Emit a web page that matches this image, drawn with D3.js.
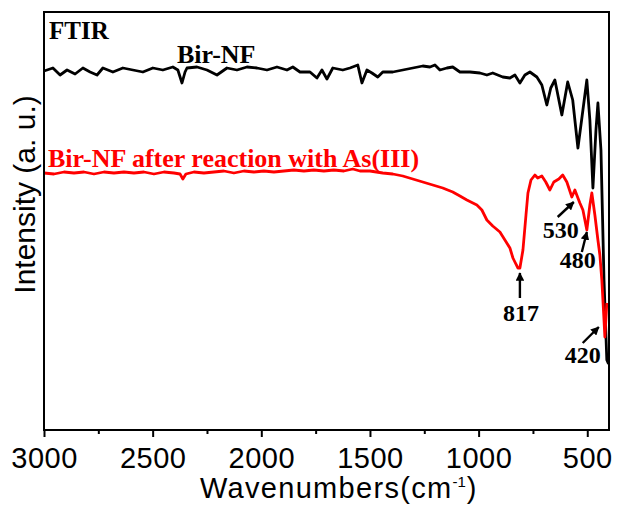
<!DOCTYPE html>
<html>
<head>
<meta charset="utf-8">
<script src="https://cdn.jsdelivr.net/npm/d3@7/dist/d3.min.js"></script>
<style>
  body { margin: 0; background: #fff; }
  svg { display: block; }
</style>
</head>
<body>
<div id="chart"></div>
<script>
(function () {
  const WIDTH  = 618;
  const HEIGHT = 512;
  const PLOT   = { left: 44, right: 609, top: 12, bottom: 430 };

  // axis ticks (cm-1)
  const xMajor = [3000, 2500, 2000, 1500, 1000, 500];
  const xMinor = [2750, 2250, 1750, 1250, 750];

  // spectra: [wavenumber, intensity a.u.]
  const birNF = [
    [3000,359],[2986,360],[2959,362],[2926,355],[2894,360],[2857,356],[2821,362],[2788,358],
    [2756,355],[2729,362],[2683,358],[2637,362],[2591,360],[2545,358],[2499,362],[2453,360],
    [2407,363],[2384,360],[2365,347],[2351,358],[2342,362],[2296,363],[2250,360],[2204,355],
    [2158,362],[2112,360],[2066,363],[2020,362],[1974,360],[1928,363],[1882,360],[1855,363],
    [1822,358],[1776,358],[1744,352],[1721,360],[1698,351],[1671,362],[1625,360],[1592,362],
    [1556,365],[1537,347],[1514,360],[1491,357],[1464,353],[1441,358],[1395,358],[1349,360],
    [1303,362],[1257,364],[1224,363],[1201,365],[1178,360],[1146,362],[1119,363],[1086,358],
    [1040,358],[994,357],[962,355],[935,357],[889,353],[856,352],[833,355],[810,347],
    [787,355],[764,358],[732,353],[709,345],[686,325],[668,342],[649,350],[617,315],
    [590,348],[567,330],[543,282],[520,320],[502,350],[488,310],[474,242],[460,300],
    [451,327],[437,280],[423,150],[410,70],[402,66]
  ];

  const birNFAs = [
    [3000,257],[2954,256],[2908,258],[2862,257],[2816,258],[2770,256],[2724,258],[2678,257],
    [2632,258],[2586,257],[2540,258],[2494,256],[2448,258],[2402,257],[2374,256],[2361,251],
    [2347,256],[2310,258],[2264,257],[2218,258],[2172,259],[2126,257],[2080,259],[2034,258],
    [1988,259],[1942,258],[1896,259],[1850,260],[1804,259],[1758,260],[1712,259],[1666,260],
    [1620,259],[1579,261],[1546,259],[1500,259],[1441,257],[1395,256],[1349,254],[1303,251],
    [1257,248],[1211,245],[1165,242],[1119,238],[1086,234],[1054,230],[1008,225],[985,220],
    [962,210],[935,204],[902,198],[879,190],[856,182],[842,172],[833,168],[819,162],
    [810,162],[796,180],[782,215],[773,237],[759,250],[741,255],[728,252],[709,254],
    [691,248],[672,240],[654,248],[631,251],[613,255],[594,248],[571,233],[557,240],
    [543,232],[534,227],[520,220],[502,200],[488,225],[479,237],[465,215],[451,190],
    [442,175],[433,150],[423,110],[419,93],[410,127]
  ];

  const seriesLabels = [
    { text: "FTIR", wn: 2977, v: 391, color: "#000", size: 25 },
    { text: "Bir-NF", wn: 2388, v: 367, color: "#000", size: 26 },
    { text: "Bir-NF after reaction with As(III)", wn: 2982, v: 263, color: "#ff0000", size: 26 }
  ];

  const peakNotes = [
    { label: "817", tip: [810, 157], tail: [810, 132], text: [805, 109] },
    { label: "530", tip: [562, 228], tail: [636, 213], text: [622, 192] },
    { label: "480", tip: [502, 198], tail: [525, 178], text: [544, 162] },
    { label: "420", tip: [447, 103], tail: [521, 87],  text: [521, 67] }
  ];

  const svg = d3.select("#chart").append("svg")
    .attr("width", WIDTH)
    .attr("height", HEIGHT)
    .style("font-family", "Arial, 'Liberation Sans', sans-serif");

  const x = d3.scaleLinear().domain([3000, 400]).range([PLOT.left, PLOT.right]);
  const y = d3.scaleLinear().domain([0, 418]).range([PLOT.bottom, PLOT.top]);

  svg.append("defs").append("marker")
    .attr("id", "head")
    .attr("viewBox", "0 0 10 10")
    .attr("refX", 9).attr("refY", 5)
    .attr("markerWidth", 3.6).attr("markerHeight", 3.6)
    .attr("markerUnits", "strokeWidth")
    .attr("orient", "auto")
    .append("path")
    .attr("d", "M0,0L10,5L0,10Z")
    .attr("fill", "#000");

  const line = d3.line().x(d => x(d[0])).y(d => y(d[1]));

  svg.append("path").datum(birNF)
    .attr("fill", "none").attr("stroke", "#000")
    .attr("stroke-width", 2.8).attr("stroke-linejoin", "round")
    .attr("d", line);

  svg.append("path").datum(birNFAs)
    .attr("fill", "none").attr("stroke", "#ff0000")
    .attr("stroke-width", 2.8).attr("stroke-linejoin", "round")
    .attr("d", line);

  // bottom axis
  const axisG = svg.append("g")
    .attr("transform", `translate(0,${PLOT.bottom})`)
    .call(d3.axisBottom(x).tickValues(xMajor).tickFormat(d3.format("d"))
      .tickSize(7).tickPadding(10));
  axisG.select(".domain").remove();
  axisG.selectAll("line").attr("stroke", "#000").attr("stroke-width", 2);
  axisG.selectAll("text").attr("font-size", 29).attr("fill", "#000")
    .attr("letter-spacing", 0.5)
    .style("font-family", "Arial, 'Liberation Sans', sans-serif");

  const minorG = svg.append("g")
    .attr("transform", `translate(0,${PLOT.bottom})`)
    .call(d3.axisBottom(x).tickValues(xMinor).tickSize(4).tickFormat(""));
  minorG.select(".domain").remove();
  minorG.selectAll("line").attr("stroke", "#000").attr("stroke-width", 2);

  // frame
  svg.append("rect")
    .attr("x", PLOT.left).attr("y", PLOT.top)
    .attr("width", PLOT.right - PLOT.left)
    .attr("height", PLOT.bottom - PLOT.top)
    .attr("fill", "none").attr("stroke", "#000").attr("stroke-width", 2);

  // axis titles
  const xt = svg.append("text")
    .attr("x", 200).attr("y", 498)
    .attr("font-size", 29).attr("letter-spacing", 1.3)
    .attr("fill", "#000");
  xt.append("tspan").text("Wavenumbers(cm");
  xt.append("tspan").attr("font-size", 15).attr("dy", -11).attr("letter-spacing", 0).text("-1");
  xt.append("tspan").attr("dy", 11).attr("dx", 1).text(")");

  svg.append("text")
    .attr("transform", `translate(35,${(97 + 292) / 2}) rotate(-90)`)
    .attr("text-anchor", "middle")
    .attr("font-size", 30)
    .attr("fill", "#000")
    .text("Intensity (a. u.)");

  // series labels
  svg.selectAll(".slabel").data(seriesLabels).join("text")
    .attr("class", "slabel")
    .attr("x", d => x(d.wn)).attr("y", d => y(d.v))
    .attr("fill", d => d.color)
    .attr("font-size", d => d.size)
    .attr("font-weight", "bold")
    .style("font-family", "'Times New Roman', 'Liberation Serif', serif")
    .text(d => d.text);

  // peak annotations
  const notes = svg.selectAll(".note").data(peakNotes).join("g").attr("class", "note");
  notes.append("line")
    .attr("x1", d => x(d.tail[0])).attr("y1", d => y(d.tail[1]))
    .attr("x2", d => x(d.tip[0])).attr("y2", d => y(d.tip[1]))
    .attr("stroke", "#000").attr("stroke-width", 2.4)
    .attr("marker-end", "url(#head)");
  notes.append("text")
    .attr("x", d => x(d.text[0])).attr("y", d => y(d.text[1]))
    .attr("text-anchor", "middle")
    .attr("font-size", 24).attr("font-weight", "bold")
    .style("font-family", "'Times New Roman', 'Liberation Serif', serif")
    .text(d => d.label);
})();
</script>
</body>
</html>
